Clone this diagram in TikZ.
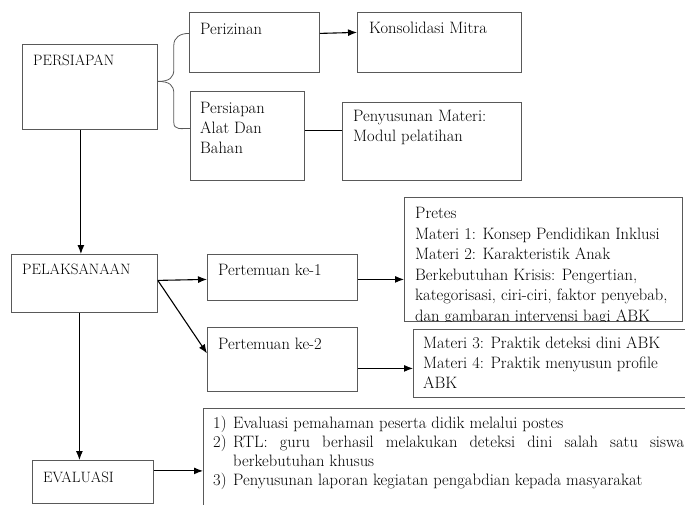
\documentclass[tikz,border=0pt]{standalone}
\usepackage{tikz}
\usetikzlibrary{positioning,arrows.meta,calc}
\tikzset{box/.style={rectangle,draw=black!65,line width=0.8pt,anchor=north west,inner sep=0pt},
            lbl/.style={anchor=north west,align=left,inner sep=0pt,font=\fontsize{16.5}{20}\selectfont},
            caps/.style={lbl,font=\fontsize{15}{20}\selectfont},
            arr/.style={-{Latex[length=9pt,width=7pt]},line width=1.1pt}, link/.style={draw=black!65,line width=0.8pt}}

\begin{document}
\begin{tikzpicture}[x=1pt,y=-1pt]
\useasboundingbox (0,0) rectangle (685,504);
\clip (0,0) rectangle (685,504);
% boxes
\node[box,minimum width=135,minimum height=85] at (22,44)(persiapan){};
\node[box,minimum width=130,minimum height=60] at (189,12)(perizinan){};
\node[box,minimum width=164,minimum height=60] at (357,12)(konsolidasi){};
\node[box,minimum width=114,minimum height=89] at (190,91)(alat){};
\node[box,minimum width=179,minimum height=78] at (342,102)(materi){};
\node[box,minimum width=146,minimum height=58] at (11,254)(pelaksanaan){};
\node[box,minimum width=150,minimum height=46] at (207,254)(temu1){};
\node[box,minimum width=150,minimum height=64] at (207,327)(temu2){};
\node[box,minimum width=278,minimum height=124] at (404,197)(pretes){};
\node[box,minimum width=300,minimum height=68] at (413,329)(praktik){};
\node[box,minimum width=121,minimum height=43] at (32,460)(evaluasi){};
\node[box,minimum width=500,minimum height=120] at (203,408)(evalbox){};
% texts
\node[caps] at ([shift={(11,11)}]persiapan.north west)(persiapan-t){PERSIAPAN};
\node[lbl] at ([shift={(11,11)}]perizinan.north west)(perizinan-t){Perizinan};
\node[lbl] at ([shift={(12,10)}]konsolidasi.north west)(konsolidasi-t){Konsolidasi Mitra};
\node[lbl] at ([shift={(10,11)}]alat.north west)(alat-t){Persiapan\\Alat Dan\\Bahan};
\node[lbl] at ([shift={(11,8)}]materi.north west)(materi-t){Penyusunan Materi:\\Modul pelatihan};
\node[caps] at ([shift={(11,10)}]pelaksanaan.north west)(pelaksanaan-t){PELAKSANAAN};
\node[lbl] at ([shift={(11,10)}]temu1.north west)(temu1-t){Pertemuan ke-1};
\node[lbl] at ([shift={(11,11)}]temu2.north west)(temu2-t){Pertemuan ke-2};
\begin{scope}
\clip (pretes.north west) rectangle (pretes.south east);
\node[lbl,font=\fontsize{16.5}{20.6}\selectfont] at ([shift={(11,10)}]pretes.north west)(pretes-t){Pretes\\Materi 1: Konsep Pendidikan Inklusi\\Materi 2: Karakteristik Anak\\Berkebutuhan Krisis: Pengertian,\\kategorisasi, ciri-ciri, faktor penyebab,\\dan gambaran intervensi bagi ABK};
\end{scope}
\node[lbl] at ([shift={(10,8)}]praktik.north west)(praktik-t){Materi 3: Praktik deteksi dini ABK\\Materi 4: Praktik menyusun profile\\ABK};
\node[caps] at ([shift={(11,12)}]evaluasi.north west)(evaluasi-t){EVALUASI};
\node[lbl,text width=471,align=justify,font=\fontsize{16.5}{19}\selectfont] at ([shift={(10,8)}]evalbox.north west)(evalbox-t){\parindent=0pt\hyphenpenalty=10000
\hangindent=20pt\hangafter=1\makebox[20pt][l]{1)}Evaluasi pemahaman peserta didik melalui postes\par
\hangindent=20pt\hangafter=1\makebox[20pt][l]{2)}RTL: guru berhasil melakukan deteksi dini salah satu siswa\linebreak berkebutuhan khusus\par
\hangindent=20pt\hangafter=1\makebox[20pt][l]{3)}Penyusunan laporan kegiatan pengabdian kepada masyarakat};
% connectors
\draw[link] ([yshift=5.5]persiapan.east) .. controls +(12,0) and +(0,8) .. ++(16,-12) -- ++(0,-24) .. controls +(0,-8) and +(-9,0) .. ([yshift=9]perizinan.west);
\draw[link] ([yshift=5.5]persiapan.east) .. controls +(12,0) and +(0,-8) .. ++(16,12) -- ++(0,29) .. controls +(0,8) and +(-9,0) .. ([yshift=7.5]alat.west);
\draw[arr] ([yshift=9]perizinan.east) -- ([yshift=10]konsolidasi.west);
\draw[line width=1pt] ([yshift=5.5]alat.east) -- ([yshift=5.5]alat.east -| materi.west);
\draw[arr] ([xshift=-9]persiapan.south) -- ([xshift=-9]persiapan.south |- pelaksanaan.north);
\draw[arr] ([yshift=3]pelaksanaan.east) -- ([yshift=-2]temu1.west);
\draw[arr] ([yshift=3]pelaksanaan.east) -- ([yshift=6]temu2.west);
\draw[arr] ([yshift=-2]temu1.east) -- ([yshift=-2]temu1.east -| pretes.west);
\draw[arr] ([yshift=-9]temu2.east) -- ([yshift=-9]temu2.east -| praktik.west);
\draw[arr] ([xshift=-5]pelaksanaan.south) -- ([xshift=-5]pelaksanaan.south |- evaluasi.north);
\draw[arr] ([yshift=11]evaluasi.east) -- ([yshift=11]evaluasi.east -| evalbox.west);
\end{tikzpicture}
\end{document}
